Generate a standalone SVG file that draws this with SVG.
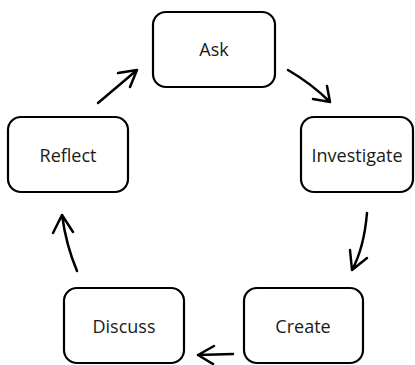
<svg xmlns="http://www.w3.org/2000/svg" width="415" height="365" viewBox="0 0 415 365">
<style>
.box{fill:#fff;stroke:#000;stroke-width:2.2}
.lbl{font-family:"Open Sans","Liberation Sans",sans-serif;font-size:18px;fill:#1a1a1a;text-anchor:middle}
.conn{fill:none;stroke:#000;stroke-width:2.5;stroke-linecap:round;stroke-linejoin:round}
</style>
<rect width="415" height="365" fill="#fff"/>
<g id="ask"><rect class="box" x="153" y="12" width="122" height="75" rx="13"/><text class="lbl" x="214" y="56">Ask</text></g>
<g id="investigate"><rect class="box" x="301" y="117" width="112" height="75" rx="13"/><text class="lbl" x="357" y="162">Investigate</text></g>
<g id="create"><rect class="box" x="244" y="288" width="119" height="75" rx="13"/><text class="lbl" x="303" y="333">Create</text></g>
<g id="discuss"><rect class="box" x="64" y="288" width="120" height="75" rx="13"/><text class="lbl" x="124" y="333">Discuss</text></g>
<g id="reflect"><rect class="box" x="8" y="117" width="120" height="75" rx="13"/><text class="lbl" x="68" y="162">Reflect</text></g>
<g id="connectors">
<path class="conn" d="M288,70 Q312,84 330,102 M313,99 L330,102 L327,86"/>
<path class="conn" d="M367,213 Q364,248 352,270 M350,250 L352,270 L367,258"/>
<path class="conn" d="M233,354 L198,355 M214,346 L198,355 L213,364"/>
<path class="conn" d="M77,271 Q66,245 62,215 M53,233 L62,215 L73,232"/>
<path class="conn" d="M98,103 L137,70 M118,73 L137,70 L130,87"/>
</g>
</svg>
